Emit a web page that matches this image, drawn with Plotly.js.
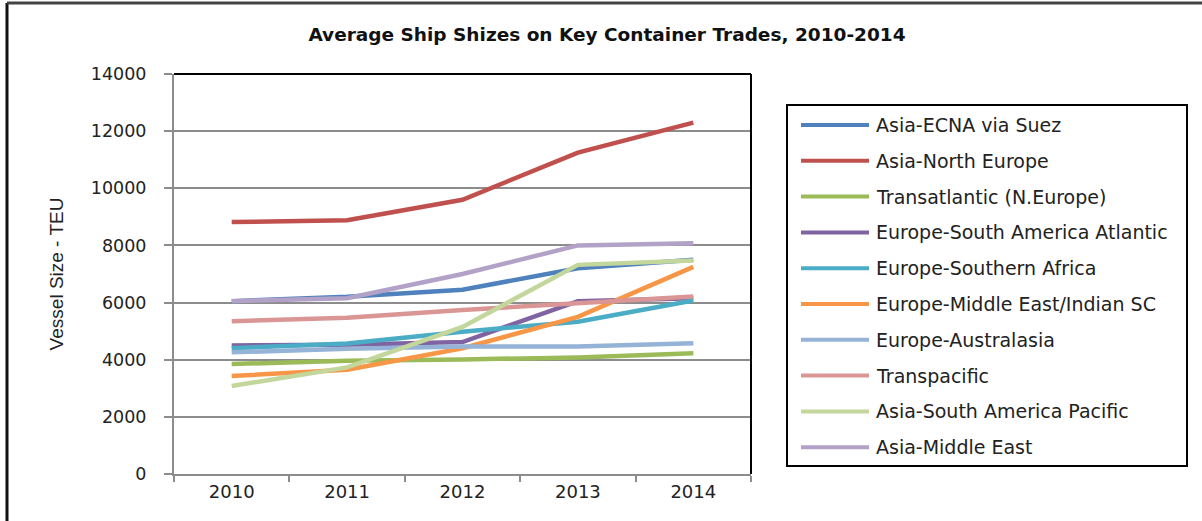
<!DOCTYPE html>
<html>
<head>
<meta charset="utf-8">
<script src="https://cdn.plot.ly/plotly-3.0.1.min.js"></script>
<style>html,body{margin:0;padding:0;background:#fff;}#chart{width:1202px;height:521px;}</style>
</head>
<body>
<div id="chart"></div>
<script>
const years = ["2010", "2011", "2012", "2013", "2014"];
const seriesNames = [
  "Asia-ECNA via Suez",
  "Asia-North Europe",
  "Transatlantic (N.Europe)",
  "Europe-South America Atlantic",
  "Europe-Southern Africa",
  "Europe-Middle East/Indian SC",
  "Europe-Australasia",
  "Transpacific",
  "Asia-South America Pacific",
  "Asia-Middle East"
];
const asiaEcnaSuez       = [6050, 6200, 6450, 7200, 7500];
const asiaNorthEurope    = [8820, 8880, 9600, 11250, 12300];
const transatlantic      = [3850, 3960, 4010, 4080, 4230];
const europeSAAtlantic   = [4500, 4520, 4620, 6050, 6150];
const europeSAfrica      = [4400, 4570, 4980, 5330, 6070];
const europeMEIndianSC   = [3430, 3650, 4400, 5500, 7250];
const europeAustralasia  = [4260, 4380, 4460, 4460, 4580];
const transpacific       = [5350, 5470, 5740, 5980, 6210];
const asiaSAPacific      = [3080, 3730, 5150, 7320, 7470];
const asiaMiddleEast     = [6050, 6150, 7000, 8000, 8080];
const yTicks = [0, 2000, 4000, 6000, 8000, 10000, 12000, 14000];

const seriesValues = [asiaEcnaSuez, asiaNorthEurope, transatlantic, europeSAAtlantic,
  europeSAfrica, europeMEIndianSC, europeAustralasia, transpacific, asiaSAPacific, asiaMiddleEast];
const colors = ["#4F81BD", "#C0504D", "#9BBB59", "#8064A2", "#4BACC6",
  "#F79646", "#95B3D7", "#D99694", "#C3D69B", "#B3A2C7"];

const W = 1202, H = 521;
const M = {l: 174, r: 451, t: 74, b: 47};
const pw = W - M.l - M.r, ph = H - M.t - M.b;
const px2x = px => (px - M.l) / pw;
const py2y = py => (H - M.b - py) / ph;

const traces = seriesNames.map((name, i) => ({
  type: "scatter", mode: "lines", name: name,
  x: years, y: seriesValues[i],
  line: {color: colors[i], width: 4.5},
  showlegend: false, hoverinfo: "x+y+name"
}));

const FONT = "DejaVu Sans, Liberation Sans, Arial, sans-serif";
const shapes = [];
const annotations = [];

// plot area top/right black border
shapes.push({type: "line", xref: "paper", yref: "paper", x0: 0, x1: 1, y0: 1, y1: 1, line: {color: "#000", width: 2}});
shapes.push({type: "line", xref: "paper", yref: "paper", x0: 1, x1: 1, y0: 0, y1: 1, line: {color: "#000", width: 2}});
// outer chart frame (left and top)
shapes.push({type: "line", xref: "paper", yref: "paper", x0: px2x(7), x1: px2x(7), y0: py2y(3), y1: py2y(530), line: {color: "#111", width: 3}});
shapes.push({type: "line", xref: "paper", yref: "paper", x0: px2x(7), x1: px2x(1210), y0: py2y(3), y1: py2y(3), line: {color: "#444", width: 3}});

// legend box
shapes.push({type: "rect", xref: "paper", yref: "paper", x0: px2x(787), x1: px2x(1187), y0: py2y(105), y1: py2y(466), line: {color: "#000", width: 2}, fillcolor: "rgba(0,0,0,0)"});
const legTop = 125, legStep = 35.8;
seriesNames.forEach((name, i) => {
  const py = legTop + i * legStep;
  shapes.push({type: "line", xref: "paper", yref: "paper", x0: px2x(801), x1: px2x(869), y0: py2y(py), y1: py2y(py), line: {color: colors[i], width: 4}});
  annotations.push({xref: "paper", yref: "paper", x: px2x(874), y: py2y(py), xanchor: "left", yanchor: "middle", showarrow: false, text: name, font: {family: FONT, size: 19, color: "#222"}});
});

const layout = {
  width: W, height: H,
  margin: M,
  paper_bgcolor: "#fff", plot_bgcolor: "#fff",
  showlegend: false,
  title: {text: "<b>Average Ship Shizes on Key Container Trades, 2010-2014</b>", x: 607 / W, xref: "container", xanchor: "center", y: 1 - 35 / H, yanchor: "middle", yref: "container",
    font: {family: FONT, size: 18.5, color: "#111"}},
  xaxis: {
    type: "category", range: [-0.5, 4.5],
    showgrid: false, zeroline: false,
    showline: true, linecolor: "#8c8c8c", linewidth: 2,
    ticks: "outside", tickson: "boundaries", ticklen: 6, tickcolor: "#8c8c8c", tickwidth: 2,
    tickfont: {family: FONT, size: 18, color: "#222"}
  },
  yaxis: {
    range: [0, 14000], tickvals: yTicks, ticktext: yTicks.map(String),
    showgrid: true, gridcolor: "#8c8c8c", gridwidth: 2, zeroline: false,
    showline: true, linecolor: "#8c8c8c", linewidth: 2,
    ticks: "outside", ticklen: 8, tickcolor: "#8c8c8c", tickwidth: 2,
    tickfont: {family: FONT, size: 17.5, color: "#222"},
    ticklabelstandoff: 14,
    title: {text: "Vessel Size - TEU", standoff: 22, font: {family: "Liberation Sans Narrow, Liberation Sans, Arial, sans-serif", size: 19, color: "#222"}}
  },
  shapes: shapes,
  annotations: annotations
};

Plotly.newPlot("chart", traces, layout, {displayModeBar: false, staticPlot: true});
</script>
</body>
</html>
